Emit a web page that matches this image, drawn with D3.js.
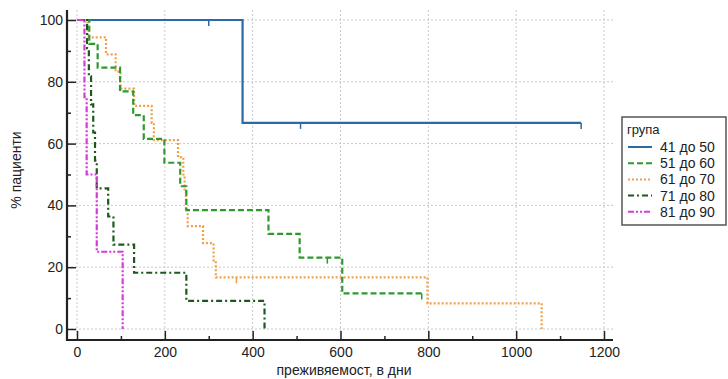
<!DOCTYPE html>
<html><head><meta charset="utf-8">
<script src="https://cdn.jsdelivr.net/npm/d3@7/dist/d3.min.js"></script>
<style>html,body{margin:0;padding:0;background:#fff;}svg{display:block;font-family:"Liberation Sans",Arial,sans-serif;}</style>
</head><body><svg id="c" width="728" height="379"></svg>
<script>
// ---- data ----
const groupLabels = ["41 до 50", "51 до 60", "61 до 70", "71 до 80", "81 до 90"];
const xTicks = [0, 200, 400, 600, 800, 1000, 1200];
const yTicks = [0, 20, 40, 60, 80, 100];

const g41Times = [0, 377];
const g41Surv = [100, 66.7];
const g41End = 1148;
const g41Cens = [300, 509, 1148];

const g51Times = [0, 28, 47, 98, 128, 152, 199, 235, 249, 436, 507, 604];
const g51Surv = [100, 92.3, 84.6, 76.9, 69.2, 61.5, 53.8, 46.2, 38.5, 30.8, 23.1, 11.5];
const g51End = 785;
const g51Cens = [570, 785];

const g61Times = [0, 24, 66, 88, 99, 130, 170, 175, 230, 242, 245, 248, 252, 287, 311, 316, 798, 1058];
const g61Surv = [100, 94.4, 88.9, 83.3, 77.8, 72.2, 66.7, 61.1, 55.6, 50, 44.4, 38.9, 33.3, 27.8, 22.2, 16.7, 8.3, 0];
const g61End = 1058;
const g61Cens = [363];

const g71Times = [0, 23, 27, 32, 37, 41, 45, 71, 83, 130, 249, 427];
const g71Surv = [100, 90.9, 81.8, 72.7, 63.6, 54.5, 45.5, 36.4, 27.3, 18.2, 9.1, 0];
const g71End = 427;
const g71Cens = [];

const g81Times = [0, 17, 22, 45, 104];
const g81Surv = [100, 75, 50, 25, 0];
const g81End = 104;
const g81Cens = [];

// ---- styles ----
const styles = [
  {color: "#2b6aa6", dash: null, w: 2.2},
  {color: "#2e9a2e", dash: "6,3", w: 2.2},
  {color: "#f0a04a", dash: "2,2", w: 2.2},
  {color: "#1c5a1c", dash: "6,3,2,3", w: 2.2},
  {color: "#d83ad8", dash: "6,2,2,2,2,2", w: 2.2}
];
const series = [
  {t: g41Times, s: g41Surv, end: g41End, cens: g41Cens},
  {t: g51Times, s: g51Surv, end: g51End, cens: g51Cens},
  {t: g61Times, s: g61Surv, end: g61End, cens: g61Cens},
  {t: g71Times, s: g71Surv, end: g71End, cens: g71Cens},
  {t: g81Times, s: g81Surv, end: g81End, cens: g81Cens}
];

const svg = d3.select("#c");
const L = 67, R = 613, T = 10, B = 340;
const x = d3.scaleLinear().domain([0, 1200]).range([77, 604]);
const y = d3.scaleLinear().domain([0, 100]).range([329, 20]);

// grid
const grid = svg.append("g");
xTicks.forEach(v => grid.append("line").attr("x1", x(v)).attr("x2", x(v)).attr("y1", T).attr("y2", B)
  .attr("stroke", "#c8c8c8").attr("stroke-width", 1).attr("stroke-dasharray", "2,2"));
yTicks.forEach(v => grid.append("line").attr("x1", L).attr("x2", R).attr("y1", y(v)).attr("y2", y(v))
  .attr("stroke", "#c8c8c8").attr("stroke-width", 1).attr("stroke-dasharray", "2,2"));

// axes
const xMinor = d3.range(100, 1200, 200);
const yMinor = d3.range(10, 100, 20);
const xAx = svg.append("g").attr("transform", `translate(0,${B})`)
  .call(d3.axisBottom(x).tickValues(xTicks).tickSize(-9).tickPadding(7).tickFormat(d3.format("d")));
const xAxMinor = svg.append("g").attr("transform", `translate(0,${B})`)
  .call(d3.axisBottom(x).tickValues(xMinor).tickSize(-4).tickFormat(""));
const yAx = svg.append("g").attr("transform", `translate(${L},0)`)
  .call(d3.axisLeft(y).tickValues(yTicks).tickSize(-9).tickPadding(4).tickFormat(d3.format("d")));
const yAxMinor = svg.append("g").attr("transform", `translate(${L},0)`)
  .call(d3.axisLeft(y).tickValues(yMinor).tickSize(-4).tickFormat(""));
[xAx, xAxMinor, yAx, yAxMinor].forEach(a => {
  a.select(".domain").remove();
  a.selectAll("line").attr("stroke", "#222").attr("stroke-width", 1.5);
  a.selectAll("text").attr("fill", "#222").style("font-size", "14px").style("font-family", '"Liberation Sans",Arial,sans-serif');
});
svg.append("line").attr("x1", L).attr("x2", L).attr("y1", T).attr("y2", B + 1).attr("stroke", "#222").attr("stroke-width", 2.2);
svg.append("line").attr("x1", L - 1).attr("x2", R).attr("y1", B).attr("y2", B).attr("stroke", "#222").attr("stroke-width", 2.2);

// titles
svg.append("text").attr("x", 344).attr("y", 375).attr("text-anchor", "middle").attr("fill", "#222")
  .style("font-size", "14px").text("преживяемост, в дни");
svg.append("text").attr("transform", "translate(21,170) rotate(-90)").attr("text-anchor", "middle").attr("fill", "#222")
  .style("font-size", "14px").text("% пациенти");

// curves
const line = d3.line().x(d => x(d[0])).y(d => y(d[1])).curve(d3.curveStepAfter);
const order = [0, 2, 1, 3, 4];
order.forEach(i => {
  const sr = series[i], st = styles[i];
  const pts = sr.t.map((t, k) => [t, sr.s[k]]);
  pts.push([sr.end, sr.s[sr.s.length - 1]]);
  const p = svg.append("path").attr("d", line(pts)).attr("fill", "none")
    .attr("stroke", st.color).attr("stroke-width", st.w);
  if (st.dash) p.attr("stroke-dasharray", st.dash);
  // censor marks
  sr.cens.forEach(c => {
    let sv = sr.s[0];
    sr.t.forEach((t, k) => { if (t <= c) sv = sr.s[k]; });
    svg.append("line").attr("x1", x(c)).attr("x2", x(c)).attr("y1", y(sv)).attr("y2", y(sv) + 6)
      .attr("stroke", st.color).attr("stroke-width", 1.5);
  });
});

// legend
const lg = svg.append("g");
lg.append("rect").attr("x", 622).attr("y", 117).attr("width", 104).attr("height", 108)
  .attr("fill", "#fff").attr("stroke", "#555").attr("stroke-width", 1.5);
lg.append("text").attr("x", 627).attr("y", 134).attr("fill", "#222").style("font-size", "13px").text("група");
groupLabels.forEach((g, i) => {
  const yy = 147 + i * 16.2;
  const st = styles[i];
  const l = lg.append("line").attr("x1", 628).attr("x2", 652).attr("y1", yy).attr("y2", yy)
    .attr("stroke", st.color).attr("stroke-width", 2);
  if (st.dash) l.attr("stroke-dasharray", st.dash);
  lg.append("text").attr("x", 660).attr("y", yy + 5).attr("fill", "#222").style("font-size", "14px").text(g);
});
</script></body></html>
